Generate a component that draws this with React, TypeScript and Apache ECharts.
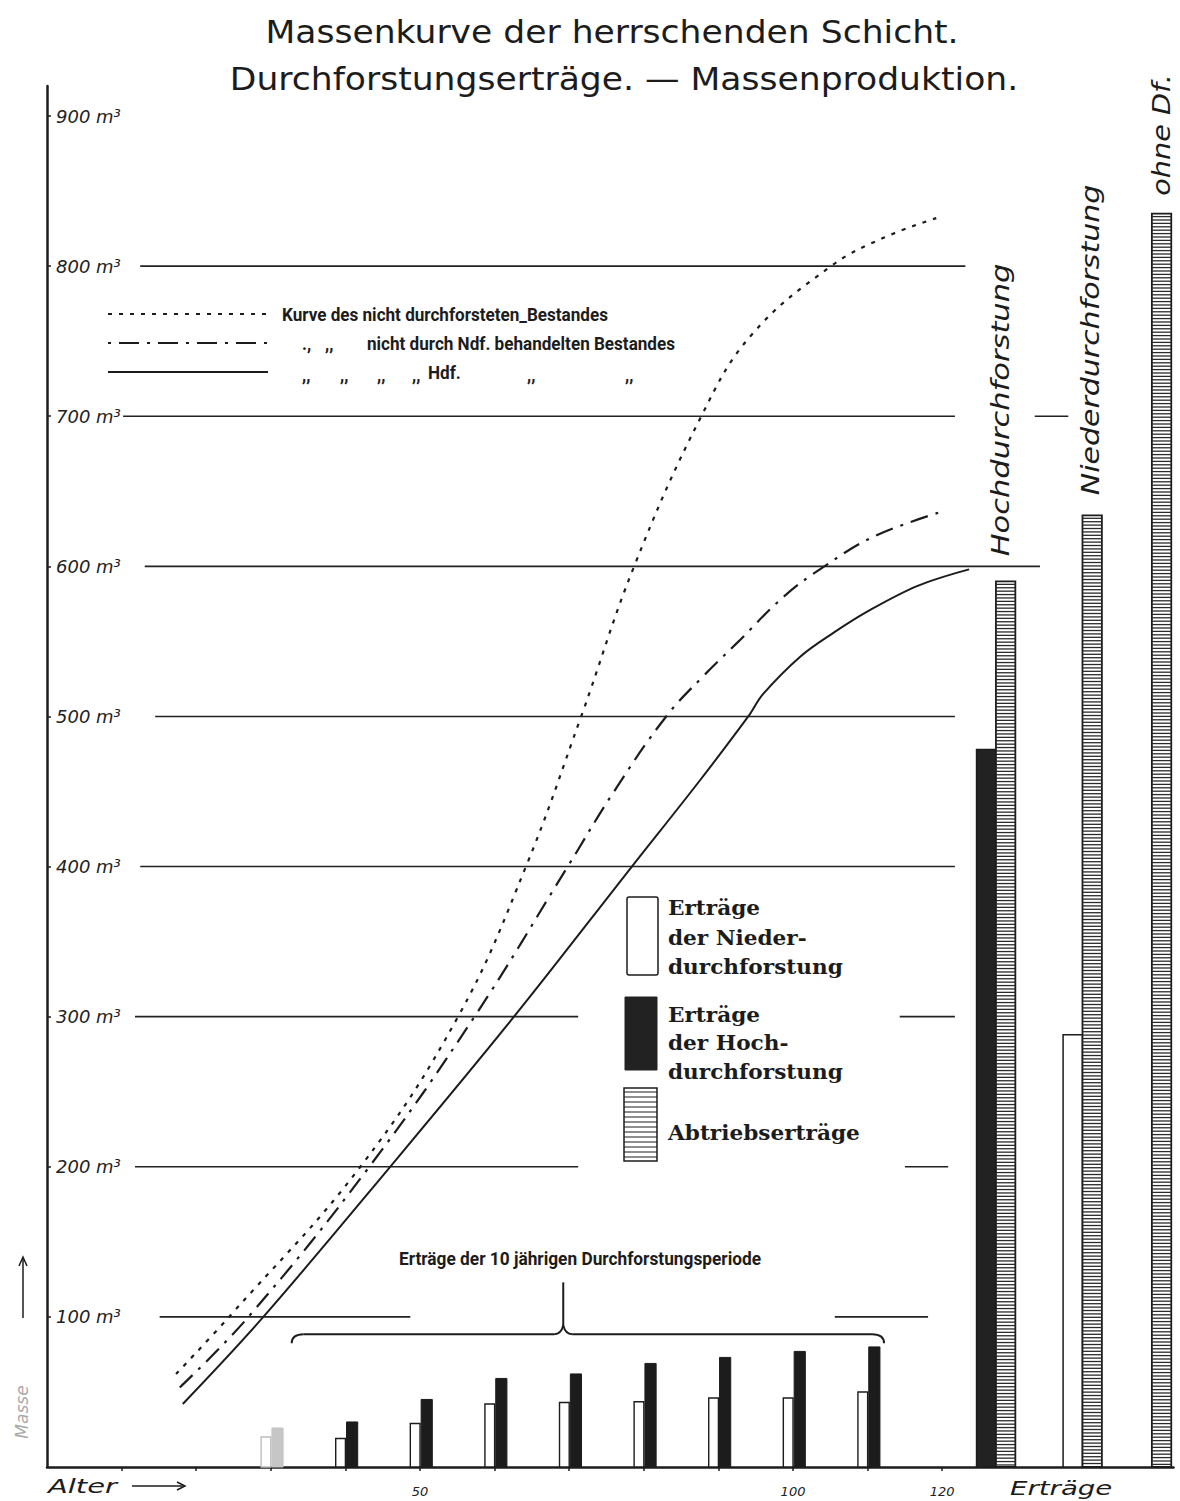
import React, { useEffect, useRef } from "react";
import * as echarts from "echarts";

// ---------------- data ----------------
const periodAges = [30, 40, 50, 60, 70, 80, 90, 100, 110];
const niederPeriodYields = [20, 19, 29, 42, 43, 43.5, 46, 46, 50];
const hochPeriodYields = [26, 30, 45, 59, 62, 69, 73, 77, 80];

const finalGroups = ["Hochdurchforstung", "Niederdurchforstung", "ohne Df."];
const finalSlots = [125.9, 137.5, 146.8];
const finalThinningTotals = [478, 288, 0];
const finalThinningKind = ["hoch", "nieder", "none"];
const finalHarvestYields = [590, 634, 835];

const unthinnedAges = [17.3, 24.4, 42.0, 55.1, 64.2, 71.6, 78.7, 87.7, 94.4, 105.1, 112.2, 119.2];
const unthinnedMass = [62, 100, 200, 300, 400, 500, 600, 700, 754, 800, 819, 832];

const niederAges = [17.8, 27.0, 43.2, 57.3, 69.8, 76.0, 83.0, 88.0, 92.5, 98.8, 104.2, 110.9, 120.3];
const niederMass = [53, 100, 200, 300, 400, 450, 500, 527, 549, 580, 600, 620, 637];

const hochAges = [18.2, 29.0, 46.0, 62.6, 78.4, 87.3, 94.0, 96.0, 101.0, 105.5, 110.0, 116.7, 123.6];
const hochMass = [42, 100, 200, 300, 400, 456, 500, 515, 540, 556, 570, 587, 598];

const massTickValues = [100, 200, 300, 400, 500, 600, 700, 800, 900];
const ageTickValues = [10, 20, 30, 40, 50, 60, 70, 80, 90, 100, 110, 120];
const ageLabelValues = [50, 100, 120];

// horizontal guide lines: [mass, fromAge, toAge]
const guideSegments = [
  [800, 12.5, 123.1],
  [700, 10.2, 121.7],
  [700, 132.4, 136.9],
  [600, 13.1, 133.1],
  [500, 14.5, 121.7],
  [400, 12.5, 121.7],
  [300, 11.8, 71.2],
  [300, 114.3, 121.7],
  [200, 11.8, 71.2],
  [200, 115.0, 120.8],
  [100, 15.1, 48.7],
  [100, 105.6, 118.1],
];

// brace over the periodic yields: [fromAge, toAge, apexAge, level, stemTop]
const braceSpec = [[32.8, 112.2, 69.2, 88.5, 123]];

const INK = "#1c1c1c";

function txt(text: string, x: number, y: number, o: any = {}) {
  return {
    type: "text",
    x,
    y,
    rotation: o.rotation || 0,
    scaleX: o.scaleX || 1,
    scaleY: o.scaleY || 1,
    silent: true,
    style: {
      text,
      fill: o.fill || INK,
      fontSize: o.fontSize || 16,
      fontFamily: o.fontFamily || "DejaVu Sans",
      fontStyle: o.fontStyle || "normal",
      fontWeight: o.fontWeight || "normal",
      textAlign: o.align || "left",
      textVerticalAlign: o.vAlign || "middle",
    },
  };
}

function buildOption() {
  const condensed = { fontFamily: "Roboto", fontWeight: "bold", fontSize: 19, scaleX: 0.9 };
  const legendSerif = { fontFamily: "DejaVu Serif", fontWeight: "bold", fontSize: 21, scaleX: 1.03 };
  const hand = { fontFamily: "DejaVu Sans", fontStyle: "italic" };

  const stripedBoxLines: any[] = [];
  for (let y = 1092; y < 1160; y += 5) {
    stripedBoxLines.push({
      type: "line",
      silent: true,
      shape: { x1: 624, y1: y, x2: 657, y2: y },
      style: { stroke: INK, lineWidth: 1.2 },
    });
  }

  const graphic: any[] = [
    txt("Massenkurve der herrschenden Schicht.", 612, 32, { fontSize: 32, align: "center", scaleX: 1.08 }),
    txt("Durchforstungserträge. — Massenproduktion.", 624, 79, { fontSize: 32, align: "center", scaleX: 1.08 }),

    // curve legend
    { type: "line", silent: true, shape: { x1: 108, y1: 314, x2: 270, y2: 314 }, style: { stroke: INK, lineWidth: 2, lineDash: [4, 7] } },
    { type: "line", silent: true, shape: { x1: 108, y1: 343, x2: 270, y2: 343 }, style: { stroke: INK, lineWidth: 2, lineDash: [3, 8, 20, 8] } },
    { type: "line", silent: true, shape: { x1: 108, y1: 372, x2: 268, y2: 372 }, style: { stroke: INK, lineWidth: 2 } },
    txt("Kurve des nicht durchforsteten_Bestandes", 282, 314, condensed),
    txt(".,", 302, 343, condensed),
    txt(",,", 325, 343, condensed),
    txt("nicht durch Ndf. behandelten Bestandes", 367, 343, condensed),
    txt(",,", 302, 374, condensed),
    txt(",,", 340, 374, condensed),
    txt(",,", 377, 374, condensed),
    txt(",,", 412, 374, condensed),
    txt("Hdf.", 428, 372, condensed),
    txt(",,", 527, 374, condensed),
    txt(",,", 625, 374, condensed),

    // bar legend
    { type: "rect", silent: true, shape: { x: 627, y: 897, width: 31, height: 78, r: 2 }, style: { fill: "#fff", stroke: INK, lineWidth: 1.5 } },
    { type: "rect", silent: true, shape: { x: 625, y: 997, width: 32, height: 73 }, style: { fill: "#222", stroke: "#222", lineWidth: 1 } },
    { type: "rect", silent: true, shape: { x: 624, y: 1088, width: 33, height: 73 }, style: { fill: "#fff", stroke: INK, lineWidth: 1.5 } },
    ...stripedBoxLines,
    txt("Erträge", 668, 908, legendSerif),
    txt("der Nieder-", 668, 938, legendSerif),
    txt("durchforstung", 668, 967, legendSerif),
    txt("Erträge", 668, 1015, legendSerif),
    txt("der Hoch-", 668, 1043, legendSerif),
    txt("durchforstung", 668, 1072, legendSerif),
    txt("Abtriebserträge", 668, 1133, legendSerif),

    // period caption
    txt("Erträge der 10 jährigen Durchforstungsperiode", 580, 1258, { ...condensed, scaleX: 0.91, align: "center", fontSize: 19 }),

    // group labels (rotated)
    txt(finalGroups[0], 1000, 410, { ...hand, fontSize: 25, rotation: Math.PI / 2, align: "center", scaleX: 1.22 }),
    txt(finalGroups[1], 1090, 340, { ...hand, fontSize: 25, rotation: Math.PI / 2, align: "center", scaleX: 1.2 }),
    txt(finalGroups[2], 1161, 135, { ...hand, fontSize: 25, rotation: Math.PI / 2, align: "center", scaleX: 1.15 }),

    // axis captions
    txt("Alter", 48, 1486, { ...hand, fontSize: 20, scaleX: 1.45 }),
    { type: "line", silent: true, shape: { x1: 132, y1: 1486, x2: 184, y2: 1486 }, style: { stroke: INK, lineWidth: 1.5 } },
    { type: "polyline", silent: true, shape: { points: [[177, 1482], [185, 1486], [177, 1490]] }, style: { stroke: INK, lineWidth: 1.5, fill: "none" } },
    txt("Erträge", 1010, 1488, { ...hand, fontSize: 20, scaleX: 1.38 }),
    txt("Masse", 22, 1412, { ...hand, fontSize: 17, rotation: Math.PI / 2, align: "center", fill: "#aaa" }),
    { type: "line", silent: true, shape: { x1: 23, y1: 1318, x2: 23, y2: 1258 }, style: { stroke: INK, lineWidth: 1.5 } },
    { type: "polyline", silent: true, shape: { points: [[19, 1266], [23, 1257], [27, 1266]] }, style: { stroke: INK, lineWidth: 1.5, fill: "none" } },
  ];

  const series: any[] = [
    {
      type: "custom",
      name: "guides",
      silent: true,
      data: guideSegments,
      encode: { x: [1, 2], y: 0 },
      renderItem: (_p: any, api: any) => {
        const m = api.value(0);
        const a = api.coord([api.value(1), m]);
        const b = api.coord([api.value(2), m]);
        return { type: "line", shape: { x1: a[0], y1: a[1], x2: b[0], y2: b[1] }, style: { stroke: "#222", lineWidth: 1.6 } };
      },
      z: 1,
    },
    {
      type: "line",
      name: "Kurve des nicht durchforsteten Bestandes",
      data: unthinnedAges.map((a, i) => [a, unthinnedMass[i]]),
      smooth: 0.4,
      showSymbol: false,
      silent: true,
      lineStyle: { color: INK, width: 2.2, type: [4, 7] },
      z: 3,
    },
    {
      type: "line",
      name: "Kurve des nicht durch Ndf. behandelten Bestandes",
      data: niederAges.map((a, i) => [a, niederMass[i]]),
      smooth: 0.4,
      showSymbol: false,
      silent: true,
      lineStyle: { color: INK, width: 2.2, type: [18, 8, 3, 8] },
      z: 3,
    },
    {
      type: "line",
      name: "Kurve des durch Hdf. behandelten Bestandes",
      data: hochAges.map((a, i) => [a, hochMass[i]]),
      smooth: 0.35,
      showSymbol: false,
      silent: true,
      lineStyle: { color: INK, width: 2 },
      z: 3,
    },
    {
      type: "custom",
      name: "Erträge der 10 jährigen Durchforstungsperiode",
      silent: true,
      data: periodAges.map((a, i) => [a, niederPeriodYields[i], hochPeriodYields[i]]),
      encode: { x: 0, y: [1, 2] },
      renderItem: (params: any, api: any) => {
        const age = api.value(0);
        const nv = api.value(1);
        const hv = api.value(2);
        const faded = params.dataIndex === 0;
        const a = api.coord([age - 1.3, nv]);
        const b = api.coord([age, 0]);
        const c = api.coord([age + 0.15, hv]);
        const d = api.coord([age + 1.65, 0]);
        return {
          type: "group",
          children: [
            { type: "rect", shape: { x: a[0], y: a[1], width: b[0] - a[0], height: b[1] - a[1] }, style: { fill: "#fff", stroke: faded ? "#bdbdbd" : INK, lineWidth: 1.4 } },
            { type: "rect", shape: { x: c[0], y: c[1], width: d[0] - c[0], height: d[1] - c[1] }, style: { fill: faded ? "#c6c6c6" : INK, stroke: faded ? "#c6c6c6" : INK, lineWidth: 1 } },
          ],
        };
      },
      z: 4,
    },
    {
      type: "custom",
      name: "Erträge",
      silent: true,
      data: finalSlots.map((s, i) => [s, finalThinningTotals[i], finalHarvestYields[i]]),
      encode: { x: 0, y: [1, 2] },
      renderItem: (params: any, api: any) => {
        const i = params.dataIndex;
        const slot = api.value(0);
        const thin = api.value(1);
        const harvest = api.value(2);
        const kind = finalThinningKind[i];
        const children: any[] = [];
        if (kind !== "none") {
          const a = api.coord([slot - 1.3, thin]);
          const b = api.coord([slot + 1.3, 0]);
          children.push({
            type: "rect",
            shape: { x: a[0], y: a[1], width: b[0] - a[0], height: b[1] - a[1] },
            style: { fill: kind === "hoch" ? "#222" : "#fff", stroke: INK, lineWidth: 1.5 },
          });
        }
        const p = api.coord([slot + 1.3, harvest]);
        const q = api.coord([slot + 3.9, 0]);
        children.push({
          type: "rect",
          shape: { x: p[0], y: p[1], width: q[0] - p[0], height: q[1] - p[1] },
          style: { fill: "#fff", stroke: INK, lineWidth: 1.8 },
        });
        for (let y = p[1] + 3; y < q[1] - 1; y += 3.4) {
          children.push({ type: "line", shape: { x1: p[0], y1: y, x2: q[0], y2: y }, style: { stroke: "#2a2a2a", lineWidth: 1.3 } });
        }
        return { type: "group", children };
      },
      z: 4,
    },
    {
      type: "custom",
      name: "brace",
      silent: true,
      data: braceSpec,
      encode: { x: [0, 1], y: 3 },
      renderItem: (_p: any, api: any) => {
        const l = api.coord([api.value(0), api.value(3)]);
        const r = api.coord([api.value(1), api.value(3)]);
        const m = api.coord([api.value(2), api.value(3)]);
        const top = api.coord([api.value(2), api.value(4)]);
        const yF = l[1];
        const yTip = yF + 9;
        const yApex = yF - 9;
        const st = { stroke: INK, lineWidth: 2, fill: "none" };
        return {
          type: "group",
          children: [
            { type: "bezierCurve", shape: { x1: l[0], y1: yTip, cpx1: l[0], cpy1: yF, x2: l[0] + 12, y2: yF }, style: st },
            { type: "line", shape: { x1: l[0] + 12, y1: yF, x2: m[0] - 9, y2: yF }, style: st },
            { type: "bezierCurve", shape: { x1: m[0] - 9, y1: yF, cpx1: m[0] - 2, cpy1: yF, x2: m[0], y2: yApex }, style: st },
            { type: "bezierCurve", shape: { x1: m[0], y1: yApex, cpx1: m[0] + 2, cpy1: yF, x2: m[0] + 9, y2: yF }, style: st },
            { type: "line", shape: { x1: m[0] + 9, y1: yF, x2: r[0] - 12, y2: yF }, style: st },
            { type: "bezierCurve", shape: { x1: r[0] - 12, y1: yF, cpx1: r[0], cpy1: yF, x2: r[0], y2: yTip }, style: st },
            { type: "line", shape: { x1: m[0], y1: yApex, x2: top[0], y2: top[1] }, style: st },
          ],
        };
      },
      z: 4,
    },
  ];

  return {
    animation: false,
    backgroundColor: "#ffffff",
    grid: { left: 47, right: 6.5, top: 86, bottom: 34, containLabel: false },
    xAxis: {
      type: "value",
      min: 0,
      max: 151,
      axisLine: { show: true, onZero: false, lineStyle: { color: INK, width: 2.5 } },
      axisTick: { show: true, customValues: ageTickValues, length: 4, lineStyle: { color: INK, width: 1.5 } },
      axisLabel: {
        show: true,
        customValues: ageLabelValues,
        margin: 18,
        fontSize: 13,
        color: "#222",
        fontFamily: "DejaVu Sans",
        fontStyle: "italic",
      },
      splitLine: { show: false },
    },
    yAxis: {
      type: "value",
      min: 0,
      max: 920,
      axisLine: { show: true, onZero: false, lineStyle: { color: INK, width: 2.5 } },
      axisTick: { show: true, inside: true, customValues: massTickValues, length: 4, lineStyle: { color: INK, width: 1.5 } },
      axisLabel: {
        show: true,
        inside: true,
        customValues: massTickValues,
        margin: 9,
        fontSize: 18,
        color: "#222",
        fontFamily: "DejaVu Sans",
        fontStyle: "italic",
        formatter: (v: number) => `${v} m³`,
      },
      splitLine: { show: false },
    },
    series,
    graphic,
  };
}

export default function App() {
  const ref = useRef<HTMLDivElement>(null);
  useEffect(() => {
    if (!ref.current) return;
    const chart = echarts.init(ref.current, null, { renderer: "svg" });
    chart.setOption(buildOption() as any);
    return () => chart.dispose();
  }, []);
  return (
    <div
      ref={ref}
      style={{ position: "absolute", left: 0, top: 0, width: 1180, height: 1501, background: "#fff" }}
    />
  );
}
